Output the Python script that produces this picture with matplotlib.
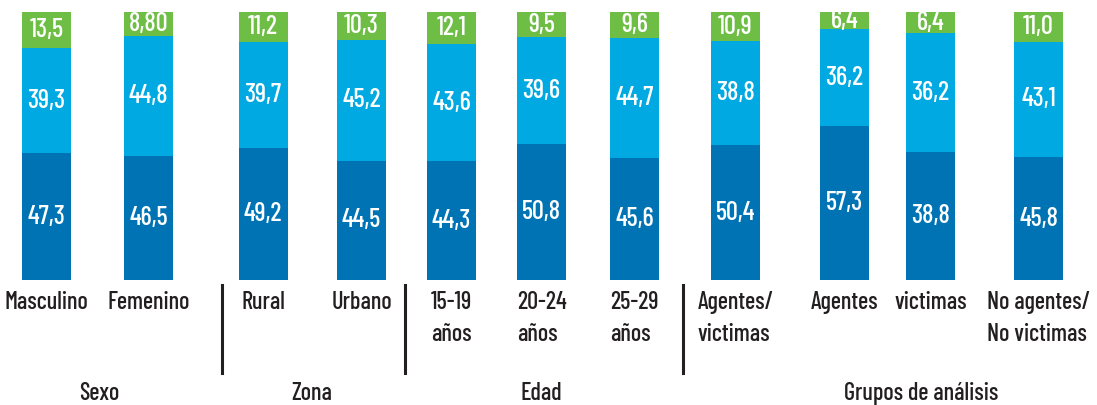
import matplotlib
matplotlib.use("Agg")
import matplotlib.pyplot as plt
import matplotlib.transforms as mtransforms
import numpy as np

plt.rcParams['font.family'] = ['Barlow Condensed', 'Roboto Condensed', 'DejaVu Sans']

categories = ["Masculino", "Femenino", "Rural", "Urbano",
              "15-19\naños", "20-24\naños", "25-29\naños",
              "Agentes/\nvictimas", "Agentes", "victimas",
              "No agentes/\nNo victimas"]
# values as printed (comma decimals), bottom to top
dark_lbl = ["47,3", "46,5", "49,2", "44,5", "44,3", "50,8", "45,6", "50,4", "57,3", "38,8", "45,8"]
light_lbl = ["39,3", "44,8", "39,7", "45,2", "43,6", "39,6", "44,7", "38,8", "36,2", "36,2", "43,1"]
green_lbl = ["13,5", "8,80", "11,2", "10,3", "12,1", "9,5", "9,6", "10,9", "6,4", "6,4", "11,0"]
groups = ["Sexo", "Zona", "Edad", "Grupos de análisis"]

# layout (pixel units along x)
bar_x = [46.5, 148.5, 263, 361.5, 451.5, 541.5, 634.5, 735.5, 844.5, 930.5, 1038.5]
group_x = [99, 312, 541, 921]
sep_x = [222, 405, 683]

DARK = "#0073b5"
LIGHT = "#00a9e2"
GREEN = "#6ebe46"
INK = "#231f20"

W, H = 1097, 405
fig = plt.figure(figsize=(W / 100, H / 100), dpi=100)
ax = fig.add_axes([0, (H - 280) / H, 1, 268 / H])

to_num = lambda labels: np.array([float(s.replace(",", ".")) for s in labels])
dark, light, green = to_num(dark_lbl), to_num(light_lbl), to_num(green_lbl)
total = dark + light + green
segments = [(dark / total * 100, DARK, dark_lbl),
            (light / total * 100, LIGHT, light_lbl),
            (green / total * 100, GREEN, green_lbl)]

bottom = np.zeros(len(categories))
for heights, color, labels in segments:
    ax.bar(bar_x, heights, bottom=bottom, width=49, color=color, linewidth=0)
    for x, b, h, t in zip(bar_x, bottom, heights, labels):
        ax.text(x, b + h / 2, t, ha="center", va="center", color="white",
                fontsize=19, fontweight=500)
    bottom = bottom + heights

ax.set_xlim(0, W)
ax.set_ylim(0, 100)
ax.axis("off")

# category labels, separators and group titles below the bars
trans = mtransforms.blended_transform_factory(ax.transData, fig.transFigure)
for x, c in zip(bar_x, categories):
    ax.text(x, 1 - 291 / H, c, ha="center", va="top", color=INK, fontsize=17.5,
            fontweight=500, linespacing=1.5, multialignment="left",
            transform=trans, clip_on=False)
for x in sep_x:
    ax.plot([x, x], [1 - 285 / H, 1 - 373 / H], color=INK, lw=2.2,
            transform=trans, clip_on=False)
for x, g in zip(group_x, groups):
    ax.text(x, 1 - 400 / H, g, ha="center", va="baseline", color=INK, fontsize=17.5,
            fontweight=500, transform=trans, clip_on=False)

fig.savefig("out.png", dpi=100)
